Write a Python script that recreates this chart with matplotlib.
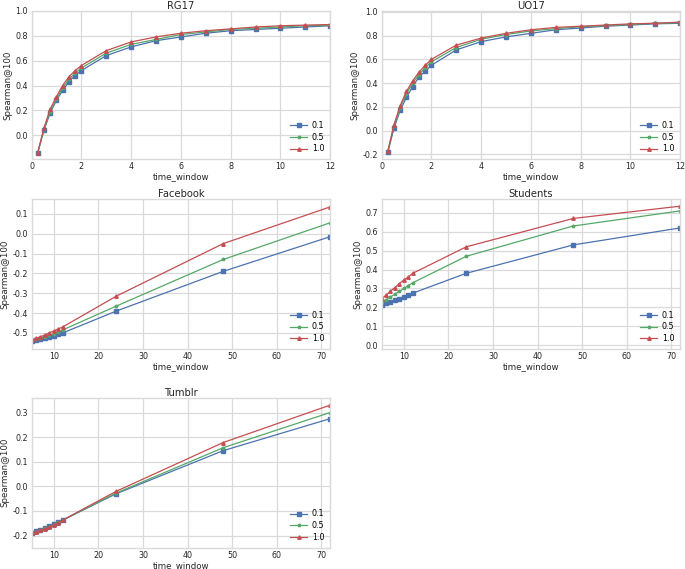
import matplotlib
matplotlib.use("Agg")
import matplotlib.pyplot as plt
from matplotlib.ticker import MultipleLocator, FormatStrFormatter

# ---------------- data ----------------
labels = ["0.1", "0.5", "1.0"]
x_small = [0.25, 0.5, 0.75, 1, 1.25, 1.5, 1.75, 2, 3, 4, 5, 6, 7, 8, 9, 10, 11, 12]
x_large = [5, 6, 7, 8, 9, 10, 11, 12, 24, 48, 72]

rg17_01 = [-0.14, 0.04, 0.18, 0.28, 0.36, 0.43, 0.48, 0.52, 0.64, 0.71, 0.76, 0.79, 0.82, 0.84, 0.85, 0.86, 0.87, 0.88]
rg17_05 = [-0.14, 0.05, 0.19, 0.29, 0.38, 0.45, 0.50, 0.54, 0.66, 0.73, 0.77, 0.81, 0.83, 0.85, 0.86, 0.87, 0.88, 0.885]
rg17_10 = [-0.14, 0.06, 0.21, 0.31, 0.40, 0.47, 0.52, 0.56, 0.68, 0.75, 0.79, 0.82, 0.84, 0.855, 0.87, 0.88, 0.885, 0.89]

uo17_01 = [-0.185, 0.02, 0.17, 0.28, 0.37, 0.45, 0.50, 0.55, 0.68, 0.75, 0.79, 0.82, 0.85, 0.865, 0.88, 0.89, 0.90, 0.905]
uo17_05 = [-0.18, 0.04, 0.19, 0.31, 0.40, 0.47, 0.53, 0.58, 0.70, 0.77, 0.81, 0.84, 0.86, 0.875, 0.885, 0.895, 0.905, 0.91]
uo17_10 = [-0.175, 0.05, 0.21, 0.33, 0.42, 0.49, 0.55, 0.60, 0.72, 0.78, 0.82, 0.85, 0.87, 0.88, 0.89, 0.90, 0.905, 0.915]

fb_01 = [-0.54, -0.535, -0.53, -0.525, -0.52, -0.515, -0.505, -0.50, -0.39, -0.19, -0.015]
fb_05 = [-0.538, -0.53, -0.525, -0.52, -0.51, -0.505, -0.495, -0.485, -0.365, -0.13, 0.055]
fb_10 = [-0.535, -0.528, -0.52, -0.51, -0.50, -0.49, -0.48, -0.47, -0.315, -0.05, 0.135]

st_01 = [0.215, 0.225, 0.23, 0.24, 0.245, 0.255, 0.265, 0.275, 0.38, 0.53, 0.62]
st_05 = [0.23, 0.24, 0.255, 0.27, 0.285, 0.30, 0.315, 0.33, 0.47, 0.63, 0.71]
st_10 = [0.245, 0.265, 0.285, 0.305, 0.325, 0.345, 0.36, 0.38, 0.52, 0.67, 0.735]

tu_01 = [-0.19, -0.183, -0.177, -0.17, -0.163, -0.153, -0.145, -0.137, -0.03, 0.145, 0.275]
tu_05 = [-0.19, -0.184, -0.178, -0.171, -0.164, -0.155, -0.146, -0.137, -0.027, 0.157, 0.30]
tu_10 = [-0.19, -0.185, -0.179, -0.172, -0.165, -0.157, -0.147, -0.137, -0.02, 0.178, 0.33]

# ---------------- style ----------------
colors = ["#4C72B0", "#55A868", "#C44E52"]
markers = ["s", "*", "^"]
plt.rcParams["font.family"] = ["DejaVu Sans"]

TICK_FS = 5.8
LABEL_FS = 6.2
TITLE_FS = 7.2
TXT = "#262626"

fig = plt.figure(figsize=(6.85, 5.69), dpi=100)

panels = [
    ("RG17", x_small, [rg17_01, rg17_05, rg17_10], [0.046, 0.7206, 0.436, 0.2604], (0, 12), (-0.19, 1.0), 2, 0.2),
    ("UO17", x_small, [uo17_01, uo17_05, uo17_10], [0.557, 0.7206, 0.436, 0.2604], (0, 12), (-0.24, 1.01), 2, 0.2),
    ("Facebook", x_large, [fb_01, fb_05, fb_10], [0.046, 0.387, 0.436, 0.263], (5, 72), (-0.58, 0.174), 10, 0.1),
    ("Students", x_large, [st_01, st_05, st_10], [0.557, 0.387, 0.436, 0.263], (5, 72), (-0.019, 0.772), 10, 0.1),
    ("Tumblr", x_large, [tu_01, tu_05, tu_10], [0.046, 0.0375, 0.436, 0.2635], (5, 72), (-0.249, 0.36), 10, 0.1),
]

for title, xs, series, pos, xl, yl, xstep, ystep in panels:
    ax = fig.add_axes(pos)
    ax.set_facecolor("white")
    for ys, lab, c, m in zip(series, labels, colors, markers):
        ax.plot(xs, ys, color=c, marker=m, markersize=2.5, linewidth=0.9, label=lab)
    ax.set_xlim(*xl)
    ax.set_ylim(*yl)
    ax.xaxis.set_major_locator(MultipleLocator(xstep))
    ax.yaxis.set_major_locator(MultipleLocator(ystep))
    ax.yaxis.set_major_formatter(FormatStrFormatter("%.1f"))
    ax.grid(True, color="#dadada", linewidth=0.9)
    ax.set_axisbelow(True)
    for s in ax.spines.values():
        s.set_color("#dadada")
        s.set_linewidth(1.0)
    ax.tick_params(length=0, labelsize=TICK_FS, colors=TXT, pad=2.5)
    ax.set_xlabel("time_window", fontsize=LABEL_FS, color=TXT, labelpad=0.5)
    ax.set_ylabel("Spearman@100", fontsize=LABEL_FS, color=TXT, labelpad=2)
    ax.set_title(title, fontsize=TITLE_FS, color=TXT, pad=1.5)
    ax.legend(loc="lower right", frameon=False, fontsize=TICK_FS, handlelength=2.1,
              handletextpad=0.6, labelspacing=0.35, borderaxespad=0.3)

fig.savefig("out.png", dpi=100)
